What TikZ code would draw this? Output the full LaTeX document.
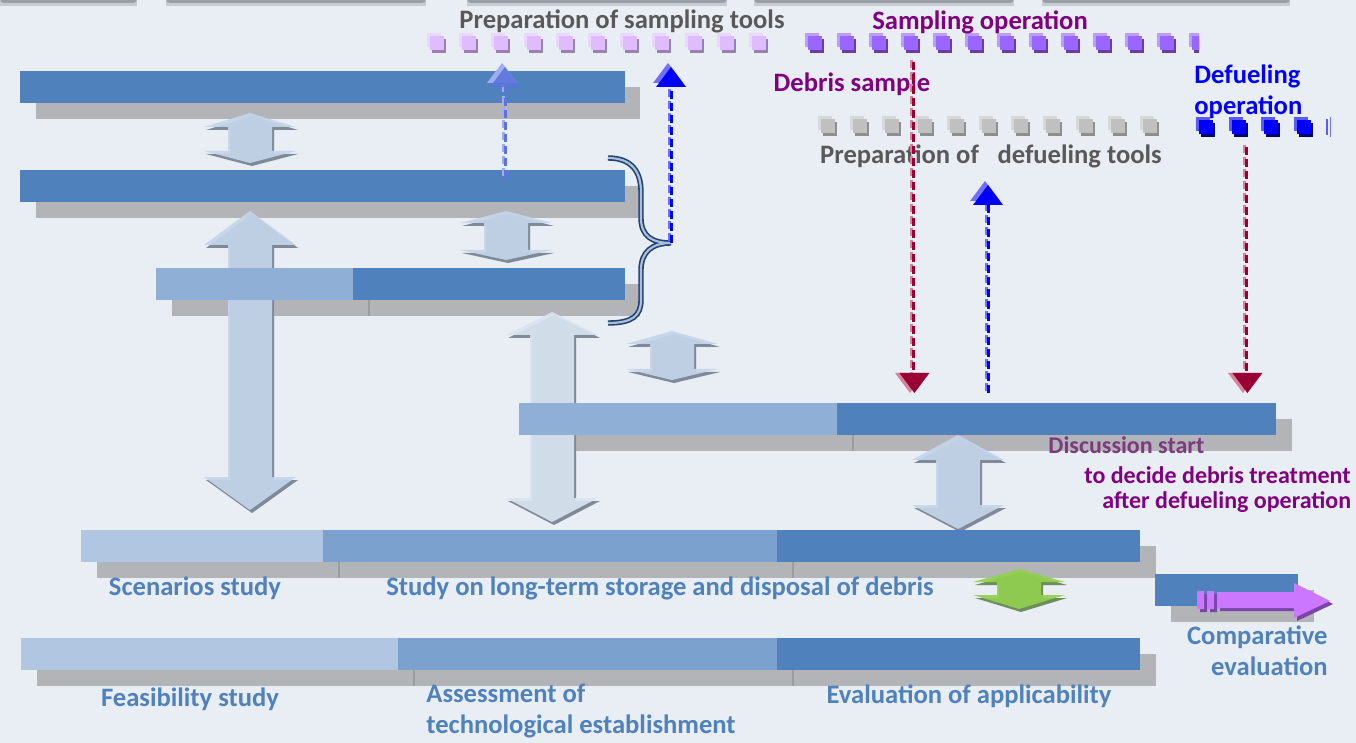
\documentclass[tikz,border=0pt]{standalone}
\usepackage{fontspec}
\setmainfont{Carlito}
\definecolor{bgc}{HTML}{E9EDF4}
\definecolor{barD}{HTML}{4F81BD}
\definecolor{barL}{HTML}{8FAFD6}
\definecolor{barXL}{HTML}{B0C6E1}
\definecolor{barM}{HTML}{7BA1CE}
\definecolor{shd}{HTML}{B3B4B8}
\definecolor{shdline}{HTML}{9A9CA1}
\definecolor{arrf}{HTML}{C5D5EA}
\definecolor{arrfB}{HTML}{D9E4F0}
\definecolor{arrs}{HTML}{7F8998}
\definecolor{lab}{HTML}{4F81BD}
\definecolor{gtxt}{HTML}{595959}
\definecolor{ptxt}{HTML}{800080}
\definecolor{dtxt}{HTML}{7E3A7E}
\definecolor{dred}{HTML}{990033}
\definecolor{lred}{HTML}{D8839B}
\definecolor{bblue}{HTML}{0000FF}
\definecolor{lblue}{HTML}{7070FF}
\definecolor{fblue}{HTML}{5C74DC}
\definecolor{fblueL}{HTML}{9EAEF0}
\definecolor{lil}{HTML}{DDBDFE}
\definecolor{lilL}{HTML}{EAD6FF}
\definecolor{lilS}{HTML}{9A7FB0}
\definecolor{pur}{HTML}{9966FF}
\definecolor{purL}{HTML}{B99CFF}
\definecolor{purS}{HTML}{6A3D9E}
\definecolor{gsq}{HTML}{C0C0C0}
\definecolor{gsqL}{HTML}{D8D8D8}
\definecolor{gsqS}{HTML}{8E8E8E}
\definecolor{bsq}{HTML}{0000FF}
\definecolor{bsqL}{HTML}{5A5AFF}
\definecolor{bsqS}{HTML}{00007A}
\definecolor{grn}{HTML}{92D050}
\definecolor{grnS}{HTML}{6F8C5C}
\definecolor{mag}{HTML}{CC77FF}
\definecolor{magS}{HTML}{7B45A8}
\definecolor{brc}{HTML}{1F4271}
\definecolor{brcL}{HTML}{A9BEDA}
\definecolor{topS}{HTML}{9A9EA6}
\definecolor{topL}{HTML}{C6CBD3}

\tikzset{
  lbl/.style={font=\fontsize{13.3}{15.5}\selectfont\bfseries, text=lab, inner sep=0pt},
  gl/.style={lbl, text=gtxt},
  pl/.style={lbl, text=ptxt},
  bl/.style={lbl, text=bblue},
  sm/.style={font=\fontsize{12}{14}\selectfont\bfseries, anchor=west},
  dsh/.style={line width=1.5pt, dash pattern=on 4pt off 2pt},
}

% block double arrow: cx, top, bottom, top head height, bottom head height, fill, shadow
\newcommand\bkarrow[7]{%
  \fill[#7, shift={(2,3)}] (#1,#2) -- ({#1+46},{#2+#4}) -- ({#1+22},{#2+#4}) -- ({#1+22},{#3-#5}) -- ({#1+46},{#3-#5}) -- (#1,#3) -- ({#1-46},{#3-#5}) -- ({#1-22},{#3-#5}) -- ({#1-22},{#2+#4}) -- ({#1-46},{#2+#4}) -- cycle;
  \fill[#6, fill opacity=0.92] (#1,#2) -- ({#1+46},{#2+#4}) -- ({#1+22},{#2+#4}) -- ({#1+22},{#3-#5}) -- ({#1+46},{#3-#5}) -- (#1,#3) -- ({#1-46},{#3-#5}) -- ({#1-22},{#3-#5}) -- ({#1-22},{#2+#4}) -- ({#1-46},{#2+#4}) -- cycle;
}
% row of bevelled squares: x0, y0, last index, spacing, colour
\newcommand\sqrow[5]{%
  \foreach \i in {0,...,#3}{
    \fill[#5L] ({#1+#4*\i},#2) rectangle +(14,14);
    \fill[#5S] ({#1+#4*\i+5},{#2+6}) rectangle +(14,14);
    \fill[#5] ({#1+#4*\i+3},{#2+3}) rectangle +(14,14);
  }}

\begin{document}
\begin{tikzpicture}[x=0.5pt,y=-0.5pt]
\useasboundingbox (0,0) rectangle (1356,743);
\fill[bgc] (0,0) rectangle (1356,743);

% strips cut at the top edge
\foreach \a/\b in {0/137, 166/426, 467/727, 754/1014, 1042/1290}{
  \fill[topL] (\a,0) rectangle (\b,6);
  \fill[topS, rounded corners=2pt] (\a,-4) rectangle (\b,3);
}

% bar shadows
\fill[shd] (36,87) rectangle (640,119);
\fill[shd] (36,186) rectangle (640,218);
\fill[shd] (172,284) rectangle (640,316);
\fill[shd] (535,419) rectangle (1292,451);
\fill[shd] (97,546) rectangle (1156,578);
\fill[shd] (37,654) rectangle (1156,686);
\fill[shd] (1171,590) rectangle (1314,622);
\draw[shdline, line width=0.6pt] (369,300) -- (369,316) (853,435) -- (853,451)
  (339,562) -- (339,578) (793,562) -- (793,578) (414,670) -- (414,686) (793,670) -- (793,686);

% block double arrows
\bkarrow{250}{113}{163}{14}{12}{arrf}{arrs}
\bkarrow{250}{211}{510}{34}{33}{arrf}{arrs}
\bkarrow{506}{211}{260}{12}{10}{arrf}{arrs}
\bkarrow{552}{312}{522}{23}{24}{arrfB}{arrs}
\bkarrow{672}{331}{380}{13}{11}{arrf}{arrs}
\bkarrow{958}{435}{529}{25}{24}{arrf}{arrs}
\bkarrow{1019}{569}{609}{13}{14}{grn}{grnS}

% bars
\fill[barD] (20,71) rectangle (625,103);
\fill[barD] (20,170) rectangle (625,202);
\fill[barL] (156,268) rectangle (353,300);
\fill[barD] (353,268) rectangle (625,300);
\fill[barL] (519,403) rectangle (837,435);
\fill[barD] (837,403) rectangle (1276,435);
\fill[barXL] (81,530) rectangle (323,562);
\fill[barM] (323,530) rectangle (777,562);
\fill[barD] (777,530) rectangle (1140,562);
\fill[barXL] (21,638) rectangle (398,670);
\fill[barM] (398,638) rectangle (777,670);
\fill[barD] (777,638) rectangle (1140,670);
\fill[barD] (1155,574) rectangle (1298,606);

% comparative evaluation arrow
\begin{scope}[shift={(3,3)}]
  \fill[magS] (1217,592) -- (1294,592) -- (1294,583) -- (1330,601) -- (1294,618) -- (1294,608) -- (1217,608) -- cycle;
  \fill[magS] (1197,591) rectangle (1204,609) (1207,591) rectangle (1214,609);
\end{scope}
\fill[mag] (1217,592) -- (1294,592) -- (1294,583) -- (1330,601) -- (1294,618) -- (1294,608) -- (1217,608) -- cycle;
\fill[mag] (1197,591) rectangle (1204,609) (1207,591) rectangle (1214,609);

% square rows
\sqrow{427}{33}{10}{32.2}{lil}
\sqrow{805}{33}{11}{32}{pur}
\begin{scope}
  \clip (1180,20) rectangle (1199,60);
  \sqrow{1189}{33}{0}{32}{pur}
\end{scope}
\sqrow{818}{116}{10}{32.2}{gsq}
\sqrow{1196}{117}{3}{32.5}{bsq}
\fill[bsqL] (1326,119) rectangle (1327.5,135);
\fill[lblue] (1330,117) rectangle (1331,137);

% brace
\coordinate (brT) at (608,158);
\coordinate (brM) at (671,243);
\coordinate (brB) at (608,323);
\draw[brc, line width=0.8pt, double=brcL, double distance=1.1pt]
  (brT) .. controls (632,158) and (641,172) .. (641,192) -- (641,218)
  .. controls (641,236) and (652,243) .. (brM)
  .. controls (652,243) and (641,252) .. (641,270) -- (641,300)
  .. controls (641,316) and (632,323) .. (brB);

% texts
\node[gl] (prepS) at (622,21) {Preparation of sampling tools};
\node[pl] (sampOp) at (980,22) {Sampling operation};
\node[pl] (debris) at (852,84) {Debris sample};
\node[bl, anchor=west, align=left] (defOp) at (1194,92) {Defueling\\operation};
\node[gl] (prepD) at (991,156) {Preparation of\hspace{0.7em}defueling tools};
\node[lbl, sm, text=dtxt] (disc1) at (1048,445) {Discussion start};
\node[pl, sm] (disc2) at (1084,475) {to decide debris treatment};
\node[pl, sm] (disc3) at (1102,502) {after defueling operation};
\node[lbl] (scen) at (195,588) {Scenarios study};
\node[lbl] (longt) at (660,588) {Study on long-term storage and disposal of debris};
\node[lbl] (feas) at (190,699) {Feasibility study};
\node[lbl, anchor=west, align=left] (assess) at (426,711) {Assessment of\\technological establishment};
\node[lbl] (evalA) at (969,696) {Evaluation of applicability};
\node[lbl, anchor=east, align=right] (comp) at (1328,651) {Comparative\\evaluation};

% dashed connectors
\coordinate (fS) at (505,178);  \coordinate (fE) at (505,80);
\coordinate (fT) at (505,63);
\coordinate (bE) at (671,82);   \coordinate (bT) at (671,63);
\coordinate (rAs) at (913,62);  \coordinate (rAe) at (913,375); \coordinate (rAt) at (913,393);
\coordinate (bDs) at (988,393); \coordinate (bDe) at (988,200); \coordinate (bDt) at (988,181);
\coordinate (rBs) at (1246,147);\coordinate (rBe) at (1246,375); \coordinate (rBt) at (1246,393);

% faded blue (sampling tool request)
\draw[dsh, fblueL] ([xshift=-1pt,yshift=1.2pt]fS) -- ([xshift=-1pt,yshift=1.2pt]fE);
\draw[dsh, fblue] (fS) -- (fE);
\fill[fblueL] ([xshift=-1.5pt]fT) -- ++(15,20) -- ++(-30,0) -- cycle;
\fill[fblue, fill opacity=0.9] ([yshift=-2pt]fT) -- ++(15,20) -- ++(-30,0) -- cycle;
% blue from brace
\draw[dsh, lblue] ([xshift=-1pt,yshift=1.2pt]brM) -- ([xshift=-1pt,yshift=1.2pt]bE);
\draw[dsh, bblue] (brM) -- (bE);
\fill[lblue] ([xshift=-1.5pt]bT) -- ++(15,20) -- ++(-30,0) -- cycle;
\fill[bblue] ([yshift=-2pt]bT) -- ++(15,20) -- ++(-30,0) -- cycle;
% red: debris sample
\draw[dsh, lred] ([xshift=-1pt,yshift=1.2pt]rAs) -- ([xshift=-1pt,yshift=1.2pt]rAe);
\draw[dsh, dred] (rAs) -- (rAe);
\fill[lred] ([xshift=-1.5pt]rAt) -- ++(-15,-20) -- ++(30,0) -- cycle;
\fill[dred] ([xshift=0.7pt]rAt) -- ++(-15,-20) -- ++(30,0) -- cycle;
% blue: defueling tools
\draw[dsh, lblue] ([xshift=-1pt,yshift=1.2pt]bDs) -- ([xshift=-1pt,yshift=1.2pt]bDe);
\draw[dsh, bblue] (bDs) -- (bDe);
\fill[lblue] ([xshift=-1.5pt]bDt) -- ++(15,20) -- ++(-30,0) -- cycle;
\fill[bblue] ([yshift=-2pt]bDt) -- ++(15,20) -- ++(-30,0) -- cycle;
% red: defueling operation
\draw[dsh, lred] ([xshift=-1pt,yshift=1.2pt]rBs) -- ([xshift=-1pt,yshift=1.2pt]rBe);
\draw[dsh, dred] (rBs) -- (rBe);
\fill[lred] ([xshift=-1.5pt]rBt) -- ++(-15,-20) -- ++(30,0) -- cycle;
\fill[dred] ([xshift=0.7pt]rBt) -- ++(-15,-20) -- ++(30,0) -- cycle;
\end{tikzpicture}
\end{document}
